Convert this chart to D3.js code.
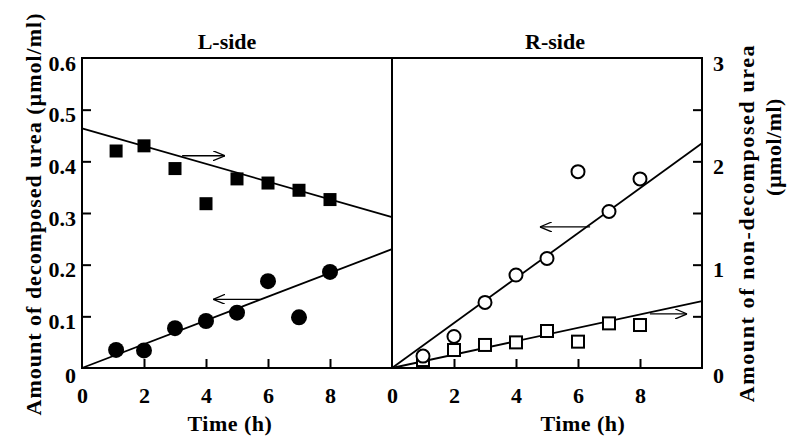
<!DOCTYPE html>
<html>
<head>
<meta charset="utf-8">
<script src="https://cdn.jsdelivr.net/npm/d3@7"></script>
<style>
  body { margin: 0; background: #fff; }
  text { font-family: "Liberation Serif", "Times New Roman", serif; font-weight: bold; fill: #000; }
</style>
</head>
<body>
<svg id="chart" width="790" height="439"></svg>
<script>
// time points (h)
var lHours = [1.1, 2, 3, 4, 5, 6, 7, 8]
  , rHours = [1, 2, 3, 4, 5, 6, 7, 8];

// decomposed urea (left axis, umol/ml) -> circles
var lDecomposed = [0.035, 0.034, 0.077, 0.091, 0.107, 0.168, 0.098, 0.186]
  , rDecomposed = [0.023, 0.061, 0.127, 0.180, 0.212, 0.380, 0.303, 0.366];

// non-decomposed urea (right axis, umol/ml) -> squares
var lNonDecomposed = [2.10, 2.15, 1.93, 1.59, 1.83, 1.79, 1.72, 1.63]
  , rNonDecomposed = [0.077, 0.174, 0.223, 0.248, 0.358, 0.255, 0.432, 0.416];

// fitted lines: value at t=0 and t=10
var lDecomposedFit = [0, 0.23]
  , lNonDecomposedFit = [2.32, 1.46]
  , rDecomposedFit = [0, 0.435]
  , rNonDecomposedFit = [0, 0.648];

// arrows: [t start, t end, value]
var lDecomposedArrow = [5.74, 4.23, 0.133]
  , lNonDecomposedArrow = [3.23, 4.61, 2.054]
  , rDecomposedArrow = [6.39, 4.77, 0.273]
  , rNonDecomposedArrow = [8.32, 9.52, 0.523];

var xTicks = [0, 2, 4, 6, 8]
  , leftTicks = [0, 0.1, 0.2, 0.3, 0.4, 0.5, 0.6]
  , rightTicks = [0, 0.5, 1, 1.5, 2, 2.5, 3];

var plotTop = 58, plotBottom = 368;

var svg = d3.select("#chart");

var xL = d3.scaleLinear().domain([0, 10]).range([82, 392]);
var xR = d3.scaleLinear().domain([0, 10]).range([392, 702]);
var yDec = d3.scaleLinear().domain([0, 0.6]).range([plotBottom, plotTop]);
var yNon = d3.scaleLinear().domain([0, 3]).range([plotBottom, plotTop]);

var defs = svg.append("defs");
defs.append("marker")
  .attr("id", "head")
  .attr("viewBox", "0 0 12 10")
  .attr("refX", 12).attr("refY", 5)
  .attr("markerWidth", 12).attr("markerHeight", 10)
  .attr("markerUnits", "userSpaceOnUse")
  .attr("orient", "auto")
 .append("path")
  .attr("d", "M0,0 L12,5 L0,10")
  .attr("fill", "none")
  .attr("stroke", "#000")
  .attr("stroke-width", 1.3);

function styleAxis(g, size) {
  g.select(".domain").remove();
  g.selectAll(".tick line").attr("stroke", "#000").attr("stroke-width", 2);
  g.selectAll(".tick text").style("font-size", size + "px").attr("fill", "#000");
}

// left axis
var gLeft = svg.append("g")
  .attr("transform", "translate(82,0)")
  .call(d3.axisLeft(yDec).tickValues(leftTicks).tickSize(-9).tickPadding(6)
    .tickFormat(d => d === 0 ? "0" : d3.format(".1f")(d)));
styleAxis(gLeft, 22);
gLeft.selectAll(".tick text").attr("dy", d => d === 0 ? "0.66em" : "0.56em");
gLeft.selectAll(".tick").filter(d => d === 0 || d === 0.6).select("line").remove();

// right axis
var gRight = svg.append("g")
  .attr("transform", "translate(702,0)")
  .call(d3.axisRight(yNon).tickValues(rightTicks).tickSize(-9).tickPadding(11)
    .tickFormat(d => Number.isInteger(d) ? d : ""));
styleAxis(gRight, 22);
gRight.selectAll(".tick text").attr("dy", d => d === 0 ? "0.66em" : "0.56em");
gRight.selectAll(".tick").filter(d => d === 0 || d === 3).select("line").remove();

// bottom axes
[xL, xR].forEach(function(x){
  var g = svg.append("g")
    .attr("transform", "translate(0," + plotBottom + ")")
    .call(d3.axisBottom(x).tickValues(xTicks).tickSize(-9).tickPadding(19));
  styleAxis(g, 22);
  g.selectAll(".tick").filter(d => d === 0).select("line").remove();
});

// frames
[xL, xR].forEach(function(x){
  svg.append("rect")
    .attr("x", x(0)).attr("y", plotTop)
    .attr("width", x(10) - x(0)).attr("height", plotBottom - plotTop)
    .attr("fill", "none").attr("stroke", "#000").attr("stroke-width", 2);
});

function drawPanel(x, hours, dec, non, decFit, nonFit, decArrow, nonArrow, filled) {
  var g = svg.append("g");

  var fits = [[decFit, yDec], [nonFit, yNon]];
  fits.forEach(function(f){
    g.append("line")
      .attr("x1", x(0)).attr("y1", f[1](f[0][0]))
      .attr("x2", x(10)).attr("y2", f[1](f[0][1]))
      .attr("stroke", "#000").attr("stroke-width", 1.8);
  });

  [[decArrow, yDec], [nonArrow, yNon]].forEach(function(a){
    g.append("line")
      .attr("x1", x(a[0][0])).attr("y1", a[1](a[0][2]))
      .attr("x2", x(a[0][1])).attr("y2", a[1](a[0][2]))
      .attr("stroke", "#000").attr("stroke-width", 1.3)
      .attr("marker-end", "url(#head)");
  });

  // squares (non-decomposed)
  var sq = filled ? 13 : 12;
  g.selectAll(".sq")
    .data(non)
   .enter().append("rect")
    .attr("class", "sq")
    .attr("x", (d,i) => x(hours[i]) - sq/2)
    .attr("y", d => yNon(d) - sq/2)
    .attr("width", sq).attr("height", sq)
    .attr("fill", filled ? "#000" : "#fff")
    .attr("stroke", "#000").attr("stroke-width", filled ? 0 : 2);

  // circles (decomposed)
  g.selectAll(".ci")
    .data(dec)
   .enter().append("circle")
    .attr("class", "ci")
    .attr("cx", (d,i) => x(hours[i]))
    .attr("cy", d => yDec(d))
    .attr("r", filled ? 8 : 6.5)
    .attr("fill", filled ? "#000" : "#fff")
    .attr("stroke", "#000").attr("stroke-width", filled ? 0 : 2);
}

drawPanel(xL, lHours, lDecomposed, lNonDecomposed, lDecomposedFit, lNonDecomposedFit,
  lDecomposedArrow, lNonDecomposedArrow, true);
drawPanel(xR, rHours, rDecomposed, rNonDecomposed, rDecomposedFit, rNonDecomposedFit,
  rDecomposedArrow, rNonDecomposedArrow, false);

// titles
svg.append("text").attr("x", 227).attr("y", 49).attr("text-anchor", "middle")
  .style("font-size", "22px").text("L-side");
svg.append("text").attr("x", 555).attr("y", 49).attr("text-anchor", "middle")
  .style("font-size", "22px").text("R-side");

svg.append("text").attr("x", 230).attr("y", 431).attr("text-anchor", "middle")
  .style("font-size", "22px").style("letter-spacing", "0.5px").text("Time (h)");
svg.append("text").attr("x", 583).attr("y", 431).attr("text-anchor", "middle")
  .style("font-size", "22px").style("letter-spacing", "0.5px").text("Time (h)");

svg.append("text")
  .attr("transform", "translate(41,214) rotate(-90)")
  .attr("text-anchor", "middle")
  .style("font-size", "22px").style("letter-spacing", "1px")
  .text("Amount of decomposed urea (\u00b5mol/ml)");

svg.append("text")
  .attr("transform", "translate(754,223) rotate(-90)")
  .attr("text-anchor", "middle")
  .style("font-size", "22px").style("letter-spacing", "1.6px")
  .text("Amount of non-decomposed urea");
svg.append("text")
  .attr("transform", "translate(781,147) rotate(-90)")
  .attr("text-anchor", "middle")
  .style("font-size", "22px").style("letter-spacing", "0.5px")
  .text("(\u00b5mol/ml)");
</script>
</body>
</html>
